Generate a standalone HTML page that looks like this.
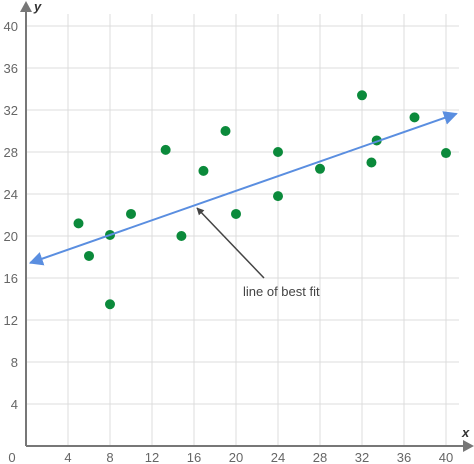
<!DOCTYPE html>
<html><head><meta charset="utf-8"><style>
body{margin:0;background:#fff;}
svg{display:block;font-family:"Liberation Sans",sans-serif;}
</style></head><body>
<svg id="chart" width="474" height="464" viewBox="0 0 474 464">
<defs>
<marker id="ah" viewBox="0 0 10 10" refX="9" refY="5" markerWidth="7" markerHeight="7" orient="auto-start-reverse"><path d="M0,0L10,5L0,10z" fill="#5a8ee0"/></marker>
<marker id="ag" viewBox="0 0 10 10" refX="9" refY="5" markerWidth="5" markerHeight="5" orient="auto"><path d="M0,0L10,5L0,10z" fill="#444"/></marker>
</defs>
<g id="grid"></g>
<g id="axes"></g>
<g id="pts"></g>
</svg>
<script>
const xTicks=[4,8,12,16,20,24,28,32,36,40];
const yTicks=[4,8,12,16,20,24,28,32,36,40];
const xs=[5,6,8,8,10,13.3,14.8,16.9,19,20,24,24,28,32,32.9,33.4,37,40];
const ys=[21.2,18.1,20.1,13.5,22.1,28.2,20,26.2,30,22.1,28,23.8,26.4,33.4,27,29.1,31.3,27.9];
const fitX=[0.4,41];
const fitIntercept=17.3, fitSlope=0.35;
const NS="http://www.w3.org/2000/svg";
const X=v=>26+v*10.5, Y=v=>446-v*10.5;
function mk(t,a,p){const e=document.createElementNS(NS,t);for(const k in a)e.setAttribute(k,a[k]);p.appendChild(e);return e;}
const g=document.getElementById('grid'),ax=document.getElementById('axes'),pg=document.getElementById('pts');
xTicks.forEach(v=>{
 const l=mk('line',{x1:X(v),x2:X(v),y1:14,y2:446,stroke:'#dcdcdc','stroke-width':1},g);
 
 
 const t=mk('text',{x:X(v),y:462,'text-anchor':'middle','font-size':13,fill:'#666'},ax);t.textContent=v;
 
 
});
yTicks.forEach(v=>{
 const l=mk('line',{x1:26,x2:459,y1:Y(v),y2:Y(v),stroke:'#dcdcdc','stroke-width':1},g);
 
 
 const t=mk('text',{x:18,y:Y(v)+5,'text-anchor':'end','font-size':13,fill:'#666'},ax);t.textContent=v;
 
 
});
const z=mk('text',{x:12,y:462,'text-anchor':'middle','font-size':13,fill:'#666'},ax);z.textContent='0';


let a=mk('line',{x1:26,y1:446,x2:26,y2:9,stroke:'#777','stroke-width':2},ax);


a=mk('path',{d:'M20,12L26,1L32,12z',fill:'#777'},ax);


a=mk('line',{x1:26,y1:446,x2:466,y2:446,stroke:'#777','stroke-width':2},ax);


a=mk('path',{d:'M463,440L474,446L463,452z',fill:'#777'},ax);


let t=mk('text',{x:34,y:11,'font-size':13,'font-style':'italic','font-weight':'bold',fill:'#333'},ax);t.textContent='y';


t=mk('text',{x:462,y:437,'font-size':13,'font-style':'italic','font-weight':'bold',fill:'#333'},ax);t.textContent='x';


xs.forEach((v,i)=>{
 const c=mk('circle',{cx:X(v),cy:Y(ys[i]),r:5,fill:'#0b8a3b'},pg);
 
 
});
const f=mk('line',{x1:X(fitX[0]),y1:Y(fitIntercept+fitSlope*fitX[0]),x2:X(fitX[1]),y2:Y(fitIntercept+fitSlope*fitX[1]),stroke:'#5a8ee0','stroke-width':2,'marker-start':'url(#ah)','marker-end':'url(#ah)'},pg);


const an=mk('line',{x1:264,y1:278,x2:197,y2:208,stroke:'#444','stroke-width':1.5,'marker-end':'url(#ag)'},pg);


t=mk('text',{x:243,y:296,'font-size':13,fill:'#444'},pg);t.textContent='line of best fit';


</script>
</body></html>
